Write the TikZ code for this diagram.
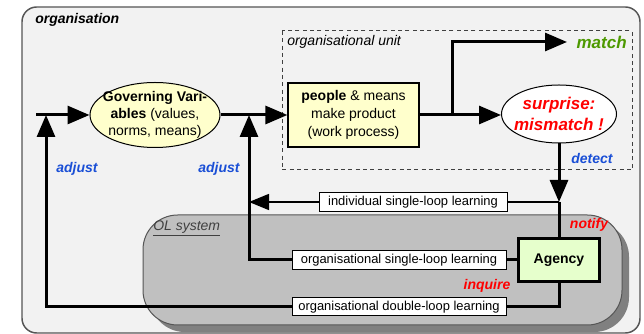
\documentclass[tikz,border=0pt]{standalone}
\usepackage{fontspec}
\setmainfont{Liberation Sans}
\usetikzlibrary{arrows.meta, shapes.geometric, calc}
\definecolor{orgfill}{HTML}{F2F2F2}
\definecolor{orgline}{HTML}{555555}
\definecolor{olfill}{HTML}{C0C0C0}
\definecolor{olshadow}{HTML}{808080}
\definecolor{paleyellow}{HTML}{FFFFCC}
\definecolor{palegreen}{HTML}{E6FFCC}
\definecolor{lblblue}{HTML}{1A4FD6}
\definecolor{lblred}{HTML}{FF0000}
\definecolor{lblgreen}{HTML}{4D9900}

\begin{document}
\begin{tikzpicture}[
  x=0.75pt, y=-0.75pt,
  font=\fontsize{10.5}{13}\selectfont,
  >={Triangle[length=16.5pt, width=13.5pt]},
  flow/.style={->, line width=2.25pt},
  wire/.style={line width=2.25pt},
  thinflow/.style={line width=1.1pt},
  lbl/.style={font=\fontsize{10.5}{12}\selectfont\bfseries\itshape},
  bigl/.style={font=\fontsize{12.75}{15.75}\selectfont\bfseries\itshape},
  blob/.style={ellipse, draw, line width=0.75pt, inner sep=0pt},
  loopbox/.style={draw, fill=white, line width=0.75pt, inner sep=0pt,
    minimum height=14.5pt, font=\fontsize{9.7}{11}\selectfont},
]
\useasboundingbox (0,0) rectangle (644,334);

% ---------- ORGANISATION ----------
\draw[orgline, fill=orgfill, line width=1.1pt, rounded corners=11pt]
  (22,7) rectangle (640,333);
\node[lbl, anchor=west, inner sep=0pt] (orgtitle) at (35,20) {organisation};

% ---------- OL SYSTEM ----------
\fill[olshadow, rounded corners=26pt] (150,222) rectangle (629,332);
\draw[orgline, fill=olfill, line width=0.75pt, rounded corners=26pt]
  (143,215) rectangle (622,325);
\node[anchor=west, inner sep=0pt, text=black!75,
  font=\fontsize{10.5}{12}\selectfont\itshape] (oltitle) at (153,228)
  {\underline{OL system}};

% ---------- ORGANISATIONAL UNIT ----------
\draw[black!75, line width=0.75pt, dash pattern=on 3pt off 2.5pt]
  (282,31) rectangle (632,170);
\node[anchor=west, inner sep=0pt, font=\fontsize{10.5}{12}\selectfont\itshape]
  (unittitle) at (287,42) {organisational unit};

% ---------- NODES ----------
% ellipses keep a fixed size, the text sits on top
\node[blob, fill=paleyellow, minimum width=97.5pt, minimum height=48.75pt]
  (gov) at (155,115) {};
\node[align=center, inner sep=0pt, font=\fontsize{10.5}{12.75}\selectfont]
  (govtext) at (gov.center)
  {\textbf{Governing Vari-}\\\textbf{ables} (values,\\norms, means)};
\node[draw, fill=paleyellow, line width=0.9pt, inner sep=0pt,
  minimum width=98.25pt, minimum height=48pt, align=center,
  font=\fontsize{10.5}{13.5}\selectfont] (work) at (353.5,115)
  {\textbf{people} \& means\\make product\\(work process)};
\node[blob, fill=white, minimum width=86.25pt, minimum height=43.5pt]
  (surp) at (559,114) {};
\node[bigl, align=center, inner sep=0pt, text=lblred] (surptext) at (surp.center)
  {surprise:\\mismatch !};
\node[bigl, text=lblgreen, anchor=west, inner xsep=7pt] (match) at (567,42) {match};
\node[draw, fill=palegreen, line width=2.2pt, inner sep=0pt,
  minimum width=61pt, minimum height=32pt,
  font=\fontsize{10.5}{12}\selectfont\bfseries] (agency) at (559,260) {Agency};

\node[loopbox, minimum width=141pt] (isl) at (413,202) {individual single-loop learning};
\node[loopbox, minimum width=160.5pt] (osl) at (399,260) {organisational single-loop learning};
\node[loopbox, minimum width=160.5pt, minimum height=13.5pt] (odl) at (399,307)
  {organisational double-loop learning};

\coordinate (in) at (36,115);
\coordinate (j1) at (46,115);
\coordinate (j2) at (249,115);
\coordinate (split) at (452,115);
\coordinate (hit) at (surp.south |- isl.east);

% ---------- FLOW ----------
\draw[flow] (in) -- (gov);
\draw[flow] (gov) -- (work);
\draw[flow] (work) -- (work -| surp.west);
\draw[flow] (split) |- (match);
\draw[flow] (surp) -- (hit);
\draw[wire] (hit) -- (agency);
\draw[thinflow] (hit) -- (isl);
\draw[thinflow, -{Triangle[length=15pt, width=12pt]}] (isl) -- (isl.west -| j2);
\draw[wire] (agency) -- (osl);
\draw[flow] (osl) -| (j2);
\draw[wire] (agency) |- (odl);
\draw[flow] (odl) -| (j1);

% ---------- LABELS ----------
\node[lbl, text=lblblue] (adjust1) at (77,169) {adjust};
\node[lbl, text=lblblue] (adjust2) at (219,169) {adjust};
\node[lbl, text=lblblue] (detect) at (592,159) {detect};
\node[lbl, text=lblred] (notify) at (589,225) {notify};
\node[lbl, text=lblred] (inquire) at (487,286) {inquire};

\end{tikzpicture}
\end{document}
